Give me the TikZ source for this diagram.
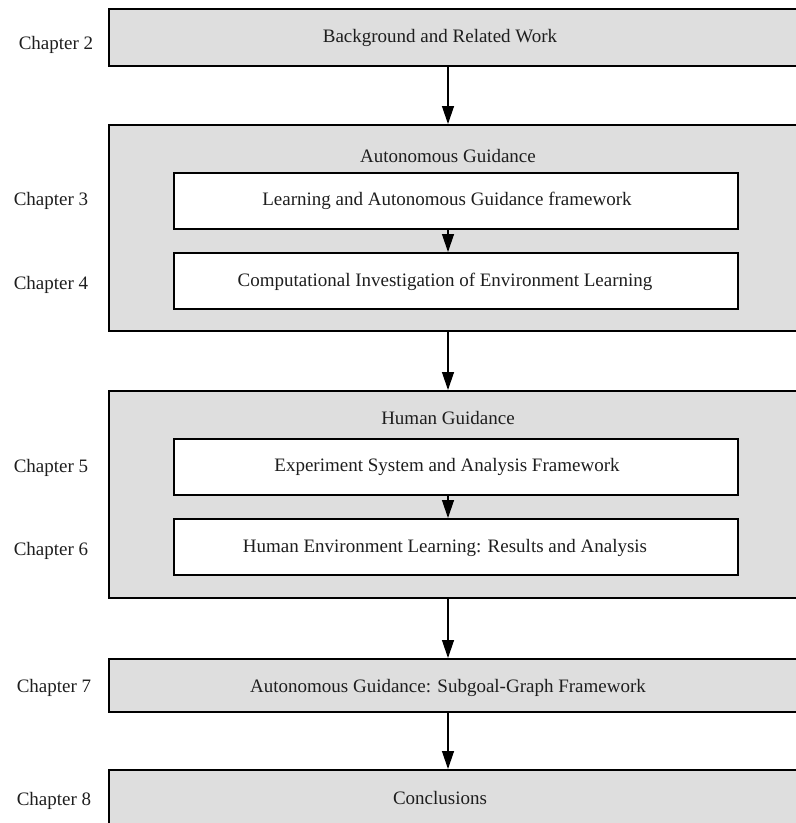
\documentclass[tikz,border=0pt]{standalone}
\usepackage{fontspec}
\setmainfont{Liberation Serif}
\usetikzlibrary{arrows.meta}
\definecolor{boxgray}{RGB}{222,222,222}
\definecolor{inkc}{RGB}{30,30,30}
\tikzset{
  outerbox/.style={draw=black, line width=2pt, fill=boxgray},
  innerbox/.style={draw=black, line width=2pt, fill=white},
  txt/.style={font=\fontsize{19}{22}\selectfont, inner sep=0pt, text=inkc},
  chap/.style={font=\fontsize{19}{22}\selectfont, inner sep=0pt, text=inkc},
  flow/.style={line width=1.3pt, -{Triangle[length=18pt,width=12pt]}},
}
\begin{document}
\begin{tikzpicture}[x=1pt,y=-1pt]
\useasboundingbox (0,0) rectangle (796,823);
\clip (0,0) rectangle (796,823);
\coordinate (ax) at (448,0);
% outer boxes
\node[outerbox, minimum width=702pt, minimum height=57pt, anchor=north west] (b1) at (108,8) {};
\node[outerbox, minimum width=702pt, minimum height=206pt, anchor=north west] (b2) at (108,124) {};
\node[outerbox, minimum width=702pt, minimum height=207pt, anchor=north west] (b3) at (108,390) {};
\node[outerbox, minimum width=702pt, minimum height=53pt, anchor=north west] (b7) at (108,658) {};
\node[outerbox, minimum width=702pt, minimum height=80pt, anchor=north west] (b8) at (108,769) {};
% inner boxes
\node[innerbox, minimum width=564pt, minimum height=56pt, anchor=north west] (i3) at (173,172) {};
\node[innerbox, minimum width=564pt, minimum height=56pt, anchor=north west] (i4) at (173,252) {};
\node[innerbox, minimum width=564pt, minimum height=56pt, anchor=north west] (i5) at (173,438) {};
\node[innerbox, minimum width=564pt, minimum height=56pt, anchor=north west] (i6) at (173,518) {};
% texts
\node[txt] (t1) at (440,38) {Background and Related Work};
\node[txt] (t2) at (448,156) {Autonomous Guidance};
\node[txt] (t3) at (447,201) {Learning and Autonomous Guidance framework};
\node[txt] (t4) at (445,282) {Computational Investigation of Environment Learning};
\node[txt] (t5) at (448,418) {Human Guidance};
\node[txt] (t6) at (447,467) {Experiment System and Analysis Framework};
\node[txt] (t7) at (445,548) {Human Environment Learning: Results and Analysis};
\node[txt] (t8) at (448,688) {Autonomous Guidance: Subgoal-Graph Framework};
\node[txt] (t9) at (440,798) {Conclusions};
% chapter labels
\node[chap] (c2) at (56,45) {Chapter 2};
\node[chap] (c3) at (51,201) {Chapter 3};
\node[chap] (c4) at (51,285) {Chapter 4};
\node[chap] (c5) at (51,468) {Chapter 5};
\node[chap] (c6) at (51,551) {Chapter 6};
\node[chap] (c7) at (54,688) {Chapter 7};
\node[chap] (c8) at (54,801) {Chapter 8};
% arrows
\draw[flow] (b1.south -| ax) -- (b2.north -| ax);
\draw[flow] (i3.south -| ax) -- (i4.north -| ax);
\draw[flow] (b2.south -| ax) -- (b3.north -| ax);
\draw[flow] (i5.south -| ax) -- (i6.north -| ax);
\draw[flow] (b3.south -| ax) -- (b7.north -| ax);
\draw[flow] (b7.south -| ax) -- (b8.north -| ax);
\end{tikzpicture}
\end{document}
